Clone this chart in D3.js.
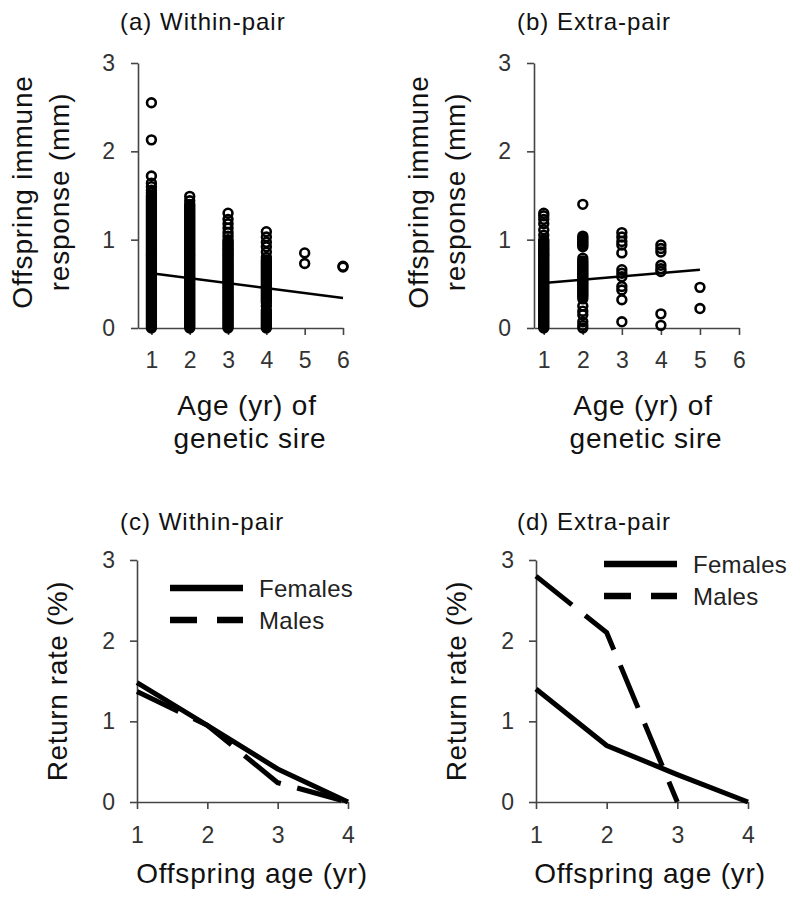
<!DOCTYPE html>
<html><head><meta charset="utf-8">
<script src="https://cdn.jsdelivr.net/npm/d3@7/dist/d3.min.js"></script>
<style>
body{margin:0;background:#fff;}
text{font-family:"Liberation Sans",Arial,sans-serif;}
</style></head><body>
<svg id="chart" width="800" height="910"></svg>
<script>
// ---------------- DATA ----------------
const responseTicks = [0, 1, 2, 3];
const sireAgeTicks = [1, 2, 3, 4, 5, 6];
const offspringAgeTicks = [1, 2, 3, 4];

// (a) Within-pair: offspring immune response (mm) by age of genetic sire
const withinPairSireAges = [1, 2, 3, 4, 5, 6];
const withinPairResponse = [
  [0.00,0.02,0.04,0.06,0.08,0.10,0.12,0.14,0.16,0.18,0.20,0.22,0.24,0.26,0.28,0.30,0.32,0.34,0.36,0.38,0.40,0.42,0.44,0.46,0.48,0.50,0.52,0.54,0.56,0.58,0.60,0.62,0.64,0.66,0.68,0.70,0.72,0.74,0.76,0.78,0.80,0.82,0.84,0.86,0.88,0.90,0.92,0.94,0.96,0.98,1.00,1.02,1.04,1.06,1.08,1.10,1.12,1.14,1.16,1.18,1.20,1.22,1.24,1.26,1.28,1.30,1.32,1.34,1.36,1.38,1.40,1.42,1.44,1.46,1.48,1.50,1.53,1.56,1.60,1.64,1.72,2.13,2.55],
  [0.00,0.02,0.04,0.06,0.08,0.10,0.12,0.14,0.16,0.18,0.20,0.22,0.24,0.26,0.28,0.30,0.32,0.34,0.36,0.38,0.40,0.42,0.44,0.46,0.48,0.50,0.52,0.54,0.56,0.58,0.60,0.62,0.64,0.66,0.68,0.70,0.72,0.74,0.76,0.78,0.80,0.82,0.84,0.86,0.88,0.90,0.92,0.94,0.96,0.98,1.00,1.02,1.04,1.06,1.08,1.10,1.12,1.14,1.16,1.18,1.20,1.22,1.24,1.26,1.28,1.30,1.32,1.34,1.36,1.38,1.40,1.44,1.49],
  [0.00,0.02,0.04,0.06,0.08,0.10,0.12,0.14,0.16,0.18,0.20,0.22,0.24,0.26,0.28,0.30,0.32,0.34,0.36,0.38,0.40,0.42,0.44,0.46,0.48,0.50,0.52,0.54,0.56,0.58,0.60,0.62,0.64,0.66,0.68,0.70,0.72,0.74,0.76,0.78,0.80,0.82,0.84,0.86,0.88,0.90,0.92,0.94,0.96,0.98,1.00,1.04,1.08,1.13,1.18,1.23,1.30],
  [0.00,0.02,0.04,0.06,0.08,0.10,0.12,0.14,0.16,0.18,0.20,0.25,0.29,0.31,0.33,0.35,0.37,0.39,0.41,0.43,0.45,0.47,0.49,0.51,0.53,0.55,0.57,0.59,0.61,0.63,0.65,0.67,0.69,0.71,0.73,0.75,0.77,0.80,0.86,0.92,0.97,1.03,1.09],
  [0.73,0.85],
  [0.69,0.70]
];
const withinPairTrendAges = [1, 6];
const withinPairTrendValues = [0.62, 0.34];

// (b) Extra-pair
const extraPairSireAges = [1, 2, 3, 4, 5];
const extraPairResponse = [
  [0.00,0.02,0.04,0.06,0.08,0.10,0.12,0.14,0.16,0.18,0.20,0.22,0.24,0.26,0.28,0.30,0.32,0.34,0.36,0.38,0.40,0.42,0.44,0.46,0.48,0.50,0.52,0.54,0.56,0.58,0.60,0.62,0.64,0.66,0.68,0.70,0.72,0.74,0.76,0.78,0.80,0.82,0.84,0.86,0.88,0.90,0.92,0.94,0.96,0.98,1.00,1.05,1.11,1.18,1.23,1.27,1.30],
  [0.00,0.03,0.07,0.15,0.19,0.25,0.33,0.36,0.38,0.40,0.42,0.44,0.46,0.48,0.50,0.52,0.54,0.56,0.58,0.60,0.62,0.64,0.66,0.68,0.70,0.72,0.74,0.76,0.79,0.92,0.94,0.96,0.98,1.00,1.02,1.04,1.40],
  [0.07,0.32,0.43,0.47,0.58,0.62,0.66,0.85,0.94,0.98,1.03,1.08],
  [0.03,0.16,0.64,0.67,0.71,0.86,0.90,0.94],
  [0.22,0.46]
];
const extraPairTrendAges = [1, 5];
const extraPairTrendValues = [0.51, 0.66];

// (c) and (d) return rate (%) by offspring age
const offspringAges = [1, 2, 3, 4];
const withinPairFemales = [1.48, 0.95, 0.41, 0.00];
const withinPairMales   = [1.37, 0.95, 0.24, 0.00];
const extraPairFemales  = [1.40, 0.70, 0.34, 0.00];
const extraPairMales    = [2.80, 2.10, 0.00, null];
const legendLabels = ["Females", "Males"];

// ---------------- DRAWING ----------------
const svg = d3.select("#chart");
const axisColor = "#444";
const tickTextColor = "#333";

function styleAxis(g) {
  g.select(".domain").attr("stroke", axisColor).attr("stroke-width", 1.6);
  g.selectAll(".tick line").attr("stroke", axisColor).attr("stroke-width", 1.6);
  g.selectAll(".tick text").attr("fill", tickTextColor)
    .style("font-size", "23px").style("font-family", '"Liberation Sans", Arial, sans-serif');
}

function drawAxes(x, y, xTicks, opt) {
  const [x0] = x.range();
  const [y0] = y.range();
  const gx = svg.append("g").attr("transform", `translate(0,${y0})`)
    .call(d3.axisBottom(x).tickValues(xTicks).tickFormat(d3.format("d"))
      .tickSizeInner(7).tickSizeOuter(0).tickPadding(opt.xPad));
  styleAxis(gx);
  const gy = svg.append("g").attr("transform", `translate(${x0},0)`)
    .call(d3.axisLeft(y).tickValues(responseTicks).tickFormat(d3.format("d"))
      .tickSizeInner(7).tickSizeOuter(0).tickPadding(opt.yPad));
  styleAxis(gy);
}

function addText(x, y, str, size, anchor, rotate, ls) {
  const t = svg.append("text")
    .attr("x", x).attr("y", y)
    .attr("text-anchor", anchor)
    .attr("fill", "#111")
    .style("font-size", size + "px")
    .style("letter-spacing", (ls || 0) + "px")
    .text(str);
  if (rotate) t.attr("transform", `rotate(-90,${x},${y})`);
  return t;
}

function drawScatter(p) {
  const x = d3.scaleLinear().domain(p.xDomain).range(p.xRange);
  const y = d3.scaleLinear().domain([0, 3]).range([p.yBottom, p.yTop]);
  drawAxes(x, y, sireAgeTicks, {xPad: 17, yPad: 16});
  const pts = [];
  p.ages.forEach((a, i) => p.values[i].forEach(v => pts.push([a, v])));
  svg.append("g").selectAll("circle").data(pts).join("circle")
    .attr("cx", d => x(d[0])).attr("cy", d => y(d[1]))
    .attr("r", 4.4).attr("fill", "none").attr("stroke", "#000").attr("stroke-width", 2.6);
  const trend = p.trendAges.map((a, i) => [a, p.trendValues[i]]);
  svg.append("path").datum(trend)
    .attr("d", d3.line().x(d => x(d[0])).y(d => y(d[1])))
    .attr("fill", "none").attr("stroke", "#000").attr("stroke-width", 2.5);
  addText(p.titleX, 30, p.title, 24, "start", false, 1);
  addText(p.yl1X, 192, "Offspring immune", 28, "middle", true, 0.8);
  addText(p.yl2X, 192, "response (mm)", 28, "middle", true, 0.8);
  addText(p.xlX, 415, "Age (yr) of", 28, "middle", false, 0.8);
  addText(p.xlX + 3, 448, "genetic sire", 28, "middle", false, 0.8);
}

function drawReturn(p) {
  const x = d3.scaleLinear().domain([1, 4]).range(p.xRange);
  const y = d3.scaleLinear().domain([0, 3]).range([802, 560]);
  drawAxes(x, y, offspringAgeTicks, {xPad: 18, yPad: 15});
  const line = d3.line().defined(d => d[1] !== null).x(d => x(d[0])).y(d => y(d[1]));
  const fem = offspringAges.map((a, i) => [a, p.females[i]]);
  const mal = offspringAges.map((a, i) => [a, p.males[i]]);
  svg.append("path").datum(mal).attr("d", line)
    .attr("fill", "none").attr("stroke", "#000").attr("stroke-width", 5)
    .attr("stroke-dasharray", "46,17");
  svg.append("path").datum(fem).attr("d", line)
    .attr("fill", "none").attr("stroke", "#000").attr("stroke-width", 5);
  // legend
  const lx0 = p.legX, lx1 = p.legX + 73;
  svg.append("line").attr("x1", lx0).attr("x2", lx1).attr("y1", p.legY).attr("y2", p.legY)
    .attr("stroke", "#000").attr("stroke-width", 6.5);
  svg.append("line").attr("x1", lx0).attr("x2", lx1).attr("y1", p.legY + 32).attr("y2", p.legY + 32)
    .attr("stroke", "#000").attr("stroke-width", 6.5).attr("stroke-dasharray", "27,20");
  addText(lx1 + 16, p.legY + 9, legendLabels[0], 24, "start", false, 0.3).attr("fill", "#222");
  addText(lx1 + 16, p.legY + 41, legendLabels[1], 24, "start", false, 0.3).attr("fill", "#222");
  addText(p.titleX, 530, p.title, 24, "start", false, 1);
  addText(p.ylX, 681, "Return rate  (%)", 28, "middle", true, 0.6);
  addText(p.xlX, 883, "Offspring age (yr)", 28, "middle", false, 0.8);
}

drawScatter({
  xDomain: [0.65, 6], xRange: [138, 343], yBottom: 328, yTop: 63,
  ages: withinPairSireAges, values: withinPairResponse,
  trendAges: withinPairTrendAges, trendValues: withinPairTrendValues,
  title: "(a) Within-pair", titleX: 120, yl1X: 32, yl2X: 69, xlX: 247
});
drawScatter({
  xDomain: [0.75, 6], xRange: [534, 739], yBottom: 328, yTop: 63,
  ages: extraPairSireAges, values: extraPairResponse,
  trendAges: extraPairTrendAges, trendValues: extraPairTrendValues,
  title: "(b) Extra-pair", titleX: 517, yl1X: 428, yl2X: 465, xlX: 643
});
drawReturn({
  xRange: [137, 348], females: withinPairFemales, males: withinPairMales,
  legX: 170, legY: 588, title: "(c) Within-pair", titleX: 120, ylX: 67, xlX: 252
});
drawReturn({
  xRange: [536, 748], females: extraPairFemales, males: extraPairMales,
  legX: 604, legY: 564, title: "(d) Extra-pair", titleX: 517, ylX: 466, xlX: 650
});
</script>
</body></html>
